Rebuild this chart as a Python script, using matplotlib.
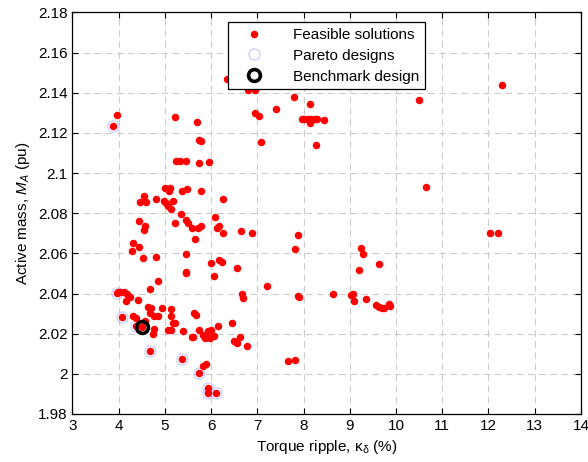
import numpy as np
import matplotlib
matplotlib.use("Agg")
import matplotlib.pyplot as plt

plt.rcParams['font.family'] = ['Liberation Sans', 'DejaVu Sans']
plt.rcParams['mathtext.fontset'] = 'custom'
plt.rcParams['mathtext.rm'] = 'Liberation Sans'
plt.rcParams['mathtext.it'] = 'Liberation Sans:italic'

# feasible solutions: torque ripple (%), active mass (pu)
feasible_x = [3.87, 3.96, 5.22, 5.70, 5.73, 5.78, 5.25, 5.32, 5.45, 5.73, 5.96,
              6.34, 6.80, 6.94, 6.96, 7.03, 7.09, 7.40, 7.80, 8.14, 7.96, 8.02,
              8.09, 8.16, 8.24, 8.29, 8.44, 8.15, 8.27, 10.50, 12.29, 10.65,
              5.015, 5.12, 5.09, 5.37, 5.48, 5.78, 4.54, 4.82, 4.47, 4.60, 4.98,
              5.03, 5.18, 5.06, 5.14, 5.35, 4.44, 4.57, 4.54, 5.23, 5.45, 5.50,
              5.59, 5.71, 5.79, 6.08, 6.12, 6.17, 5.66, 4.31, 4.29, 4.44, 4.52,
              4.82, 5.45, 5.99, 6.17, 6.24, 5.45, 5.46, 6.26, 6.26, 6.64, 6.89,
              7.88, 7.81, 6.57, 12.03, 12.21, 9.25, 9.28, 9.21, 9.63,
              6.06, 4.86, 4.69, 7.20, 3.96, 3.98, 4.04, 4.12, 4.19, 4.24, 4.17,
              4.42, 6.68, 6.69, 7.88, 7.91, 8.64, 9.03, 9.08, 9.10, 9.36, 9.57,
              9.64, 9.69, 9.73, 9.85, 9.86, 4.08, 4.32, 4.37, 4.64, 4.71, 4.69,
              4.77, 4.86, 4.93, 5.13, 5.14, 5.18, 5.21, 5.63, 5.68, 4.37, 4.50,
              4.58, 5.08, 5.14, 4.77, 4.74, 5.40, 5.58, 5.61, 5.74, 5.83, 5.88,
              5.97, 5.93, 6.06, 5.99, 5.86, 6.14, 6.45, 6.49, 6.54, 6.57, 6.62,
              6.77, 7.66, 7.82, 4.69, 5.37, 5.82, 5.89, 5.75, 5.94, 5.94, 6.11]
feasible_y = [2.1234, 2.1288, 2.128, 2.1253, 2.1165, 2.1161, 2.106, 2.106, 2.106, 2.1048, 2.1053,
              2.147, 2.1412, 2.1414, 2.130, 2.1283, 2.1153, 2.1318, 2.138, 2.1345, 2.127, 2.127,
              2.127, 2.127, 2.127, 2.127, 2.1262, 2.1248, 2.114, 2.1364, 2.144, 2.093,
              2.0924, 2.0924, 2.0912, 2.0912, 2.0919, 2.0912, 2.0886, 2.0871, 2.0854, 2.0854, 2.0862,
              2.0852, 2.0861, 2.0836, 2.0821, 2.0796, 2.0761, 2.0738, 2.0716, 2.075, 2.0766, 2.075,
              2.0725, 2.0725, 2.0736, 2.0782, 2.0725, 2.0736, 2.0673, 2.065, 2.061, 2.0632, 2.0578,
              2.058, 2.0597, 2.055, 2.0567, 2.0555, 2.0509, 2.0503, 2.0871, 2.0703, 2.0713, 2.0703,
              2.0691, 2.062, 2.0529, 2.0703, 2.0703, 2.0627, 2.0597, 2.0516, 2.0546,
              2.0487, 2.0462, 2.0422, 2.0439, 2.0401, 2.041, 2.0406, 2.0406, 2.0396, 2.0381, 2.0364,
              2.0369, 2.0397, 2.038, 2.0388, 2.0384, 2.0399, 2.0393, 2.0399, 2.0364, 2.0374, 2.0341,
              2.0331, 2.0328, 2.0329, 2.0348, 2.0336, 2.0282, 2.0288, 2.0277, 2.0334, 2.0326, 2.0304,
              2.0286, 2.0288, 2.0326, 2.0321, 2.0288, 2.0255, 2.0252, 2.0301, 2.0293, 2.0238, 2.0235,
              2.0265, 2.0218, 2.0218, 2.0222, 2.0198, 2.0212, 2.0185, 2.0182, 2.0216, 2.0193, 2.0188,
              2.0177, 2.0215, 2.0188, 2.0217, 2.018, 2.024, 2.0253, 2.0165, 2.0157, 2.0152, 2.0182,
              2.014, 2.0065, 2.007, 2.0113, 2.0073, 2.0038, 2.0048, 2.0002, 1.9931, 1.9906, 1.9906]

pareto_x = [3.87, 3.96, 4.08, 4.37, 4.50, 4.69, 5.37, 5.75, 5.94, 5.94, 6.11]
pareto_y = [2.1234, 2.0401, 2.0282, 2.0238, 2.0235, 2.0113, 2.0073, 2.0002, 1.9931, 1.9906, 1.9906]

bench_x = [4.51]
bench_y = [2.0235]

xticks = np.arange(3, 15, 1)
yticks = np.round(np.arange(1.98, 2.1801, 0.02), 2)

fig = plt.figure(figsize=(5.88, 4.62), dpi=100)
ax = fig.add_axes([0.123, 0.104, 0.865, 0.869])

ax.plot(feasible_x, feasible_y, 'o', color='red', markersize=5.4, markeredgewidth=0,
        linestyle='none', label='Feasible solutions', zorder=3)
ax.plot(pareto_x, pareto_y, 'o', markerfacecolor='none', markeredgecolor=(0.78, 0.78, 1.0),
        markersize=8, markeredgewidth=0.8, linestyle='none', label='Pareto designs', zorder=2)
ax.plot(bench_x, bench_y, 'o', markerfacecolor='none', markeredgecolor='black',
        markersize=8.5, markeredgewidth=2.6, linestyle='none', label='Benchmark design', zorder=4)

ax.set_xlim(3, 14)
ax.set_ylim(1.98, 2.18)
ax.set_xticks(xticks)
ax.set_yticks(yticks)
ax.set_yticklabels([f'{v:g}' for v in yticks])
ax.tick_params(direction='in', top=True, right=True, labelsize=11, length=4, width=0.8)
ax.grid(True, linestyle=(0, (6, 4)), color=(0.8, 0.8, 0.8), linewidth=0.8)
ax.set_axisbelow(True)
for s in ax.spines.values():
    s.set_linewidth(0.9)

ax.set_xlabel(r'Torque ripple, $\mathrm{\kappa}_{\mathrm{\delta}}$ (%)', fontsize=11)
ax.set_ylabel(r'Active mass, $M_A$ (pu)', fontsize=11)

leg = ax.legend(loc='upper center', fontsize=11, frameon=True, fancybox=False,
                edgecolor='black', framealpha=1, borderaxespad=0.65, handletextpad=1.3,
                labelspacing=0.45, borderpad=0.36, handlelength=2.6)
leg.get_frame().set_linewidth(0.9)
leg.set_zorder(10)

fig.savefig('out.png', dpi=100)
